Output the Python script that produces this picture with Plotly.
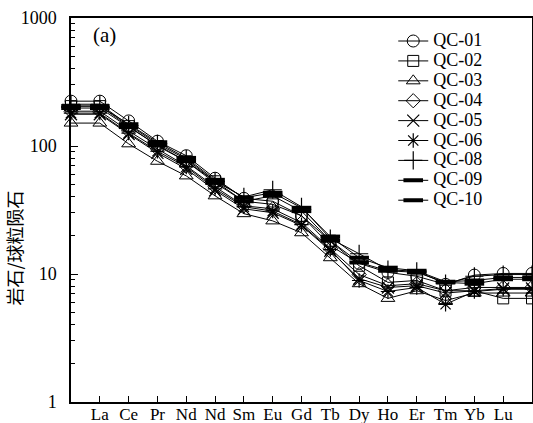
import plotly.graph_objects as go

# REE element tick labels (as printed in the reference, incl. the duplicated "Nd")
tick_labels = ["La", "Ce", "Pr", "Nd", "Nd", "Sm", "Eu", "Gd", "Tb", "Dy", "Ho", "Er", "Tm", "Yb", "Lu"]
# data columns: one before La (on the left axis), the 15 labelled ones, one after Lu (right axis)
positions = list(range(-1, 16))

sample_names = ["QC-01", "QC-02", "QC-03", "QC-04", "QC-05", "QC-06", "QC-08", "QC-09", "QC-10"]

qc01 = [224, 224, 157, 109, 84, 56, 39, 37, 28.5, 16.7, 12.1, 10.3, 9.6, 8.3, 9.8, 10.1, 10.1]
qc02 = [205, 205, 143, 100, 76, 53, 37, 35, 28.5, 18.2, 11.6, 8.6, 8.9, 7.4, 7.4, 6.45, 6.45]
qc03 = [151, 151, 104, 76, 58.4, 40.8, 29.6, 26, 21.0, 13.4, 8.4, 6.45, 7.4, 6.2, 7.1, 7.1, 7.1]
qc04 = [187, 187, 131, 94.8, 69.9, 48, 34.1, 32.3, 25.2, 15.8, 9.9, 8.1, 8.4, 7.4, 7.85, 7.85, 7.85]
qc05 = [177, 177, 124, 88.3, 66.2, 45, 32.3, 30.1, 23.9, 15.2, 9.2, 7.85, 8.1, 7.1, 7.4, 7.7, 7.7]
qc06 = [180.7, 180.7, 126, 91, 68.6, 46.3, 33.5, 31, 24.3, 15.5, 8.9, 7.3, 7.85, 5.8, 7.3, 7.6, 7.6]
qc08 = [212, 212, 146, 104, 79, 53, 40, 45.5, 33.5, 18.9, 14.4, 10.8, 10.5, 8.4, 9.6, 9.9, 9.9]
qc09 = [205, 205, 148, 107, 80.7, 54.4, 39.4, 43.1, 32.9, 19.6, 13.4, 11.2, 10.6, 8.7, 8.9, 9.4, 9.4]
qc10 = [198, 198, 140.6, 101.8, 76, 51.5, 37, 40.8, 31, 18.2, 12.3, 10.6, 10.3, 8.6, 8.4, 9.1, 9.1]

series = [qc01, qc02, qc03, qc04, qc05, qc06, qc08, qc09, qc10]

symbols = ["circle-open", "square-open", "triangle-up-open", "diamond-open",
           "x-thin-open", "asterisk-open", "cross-thin-open", "line-ew-open", "line-ew-open"]
sizes = [12, 11, 12, 11, 12, 12, 13, 14, 14]
mlw = [1, 1, 1, 1, 1.2, 1.2, 1.2, 4, 4]

serif = "Liberation Serif"

fig = go.Figure()
for name, vals, sym, sz, lw in zip(sample_names, series, symbols, sizes, mlw):
    fig.add_trace(go.Scatter(
        x=positions, y=vals, mode="lines+markers",
        name='<span style="font-size:18px">' + name + '</span>',
        line=dict(color="black", width=1),
        marker=dict(symbol=sym, size=sz, color="black",
                    line=dict(color="black", width=lw)),
        cliponaxis=False,
    ))

fig.update_layout(
    width=533, height=423,
    margin=dict(l=71, r=1, t=18, b=21),
    paper_bgcolor="white", plot_bgcolor="white",
    font=dict(family=serif, color="black", size=17),
    showlegend=True,
    legend=dict(x=0.699, y=0.979, xanchor="left", yanchor="top",
                bgcolor="rgba(0,0,0,0)", font=dict(family=serif, size=13),
                itemwidth=30, tracegroupgap=0),
    xaxis=dict(range=[-1, 15], tickmode="array", tickvals=list(range(len(tick_labels))),
               ticktext=tick_labels, ticks="inside", ticklen=6, tickwidth=1.2,
               tickcolor="black", showline=True, linecolor="black", linewidth=1.5,
               mirror=True, showgrid=False, zeroline=False, automargin=False,
               ticklabelstandoff=-4,
               tickfont=dict(family=serif, size=17)),
    yaxis=dict(type="log", range=[0, 3], tickvals=[1, 10, 100, 1000],
               ticktext=["1", "10", "100", "1000"], ticks="inside", ticklen=7,
               tickwidth=1.2, tickcolor="black", showline=True, linecolor="black",
               linewidth=1.5, mirror=True, showgrid=False, zeroline=False,
               ticklabelstandoff=9, automargin=False,
               minor=dict(ticks="inside", ticklen=4, tickcolor="black", dtick="D1",
                          showgrid=False),
               tickfont=dict(family=serif, size=18)),
    annotations=[
        dict(text="岩石/球粒陨石", textangle=-90, x=-0.1235, y=0.40, xref="paper",
             yref="paper", xanchor="center", yanchor="middle", showarrow=False,
             font=dict(family="Noto Sans CJK SC", size=18, color="black")),
        dict(text="(a)", x=0.044, y=0.957, xref="paper", yref="paper", xanchor="left",
             yanchor="middle", showarrow=False,
             font=dict(family=serif, size=21, color="black")),
    ],
)

fig.write_html("out.html", config={"displayModeBar": False},
               post_script="document.body.style.margin='0';document.body.style.overflow='hidden';")
